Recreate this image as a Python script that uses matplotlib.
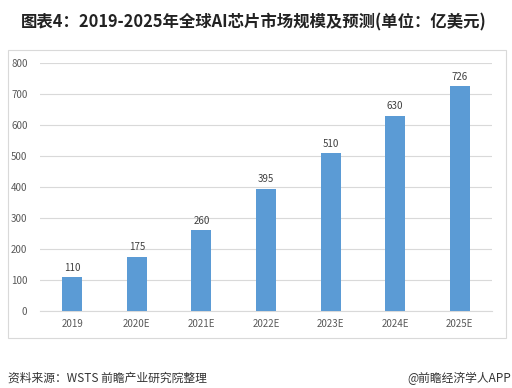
import matplotlib.pyplot as plt
from matplotlib.patches import Rectangle

plt.rcParams['font.family'] = ['Noto Sans CJK SC', 'DejaVu Sans']

years = ['2019', '2020E', '2021E', '2022E', '2023E', '2024E', '2025E']
values = [110, 175, 260, 395, 510, 630, 726]
yticks = [0, 100, 200, 300, 400, 500, 600, 700, 800]

fig = plt.figure(figsize=(5.12, 3.88), dpi=100)
fig.patch.set_facecolor('white')

# outer frame of the chart
fig.add_artist(Rectangle((8 / 512, 1 - 338 / 388), 498 / 512, 288 / 388,
                         transform=fig.transFigure, fill=False,
                         edgecolor='#D9D9D9', linewidth=0.8))

ax = fig.add_axes([40 / 512, 1 - 311 / 388, 452 / 512, 248 / 388])
x = range(len(years))
bars = ax.bar(x, values, width=0.31, color='#5B9BD5', zorder=3)
for xi, v in zip(x, values):
    ax.text(xi, v + 14, str(v), ha='center', va='bottom', fontsize=7, color='#404040')

ax.set_xlim(-0.5, 6.5)
ax.set_ylim(0, 800)
ax.set_yticks(yticks)
ax.set_xticks(list(x))
ax.set_xticklabels(years)
ax.grid(axis='y', color='#D9D9D9', linewidth=0.8, zorder=0)
for s in ['top', 'right', 'left']:
    ax.spines[s].set_visible(False)
ax.spines['bottom'].set_color('#D9D9D9')
ax.tick_params(axis='both', length=0, labelsize=7, labelcolor='#595959')
ax.tick_params(axis='y', pad=9)
ax.tick_params(axis='x', pad=6)

fig.text(254 / 512, 1 - 22 / 388, '图表4：2019-2025年全球AI芯片市场规模及预测(单位：亿美元)',
         ha='center', va='center', fontsize=11.8, fontweight='bold', color='#222222')
fig.text(8 / 512, 1 - 378 / 388, '资料来源：WSTS 前瞻产业研究院整理',
         ha='left', va='center', fontsize=8.5, color='#333333')
fig.text(511 / 512, 1 - 378 / 388, '@前瞻经济学人APP',
         ha='right', va='center', fontsize=8.5, color='#333333')

fig.savefig('out.png', dpi=100)
